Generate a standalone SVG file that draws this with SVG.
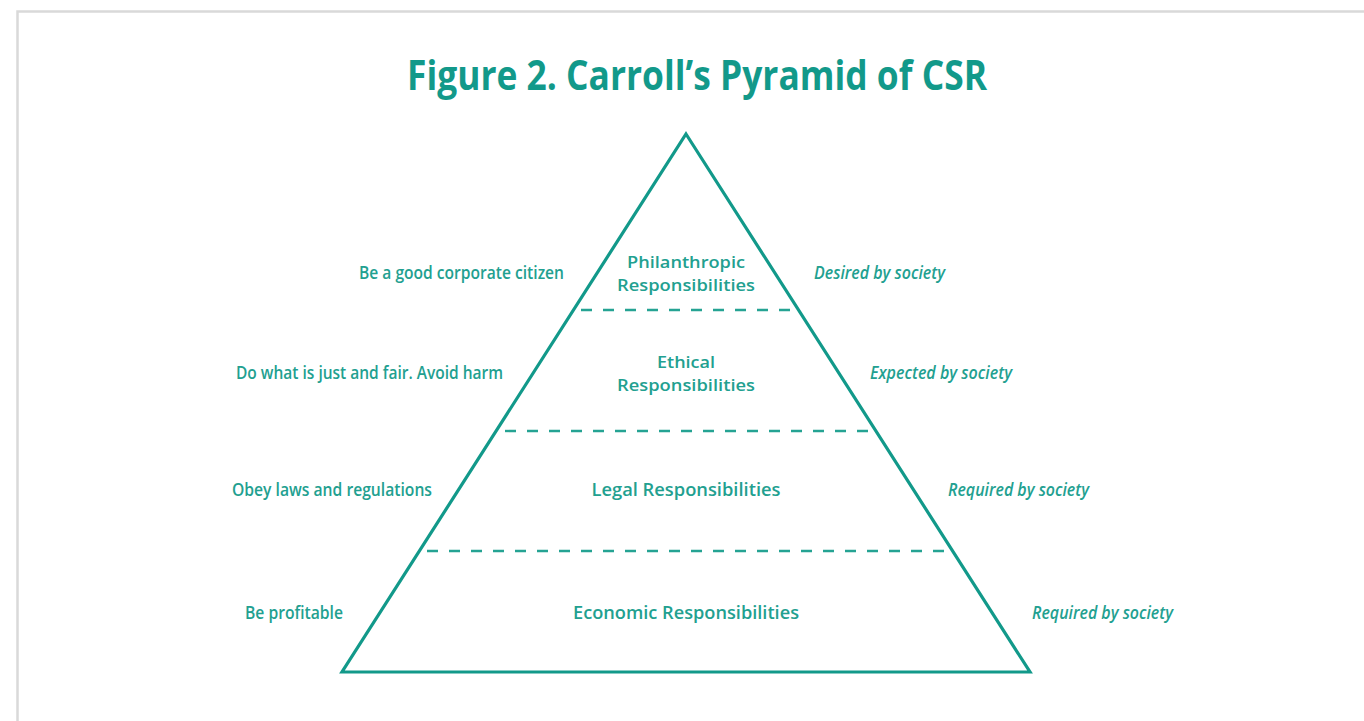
<svg xmlns="http://www.w3.org/2000/svg" width="1364" height="721" viewBox="0 0 1364 721">
  <style>
    .frame { fill: none; stroke: #d9d9d9; stroke-width: 2.5; }
    .edge { fill: none; stroke: #12998a; stroke-width: 3.2; stroke-linejoin: miter; }
    .tier { fill: none; stroke: #25a393; stroke-width: 2.4; stroke-dasharray: 11 11; }
    text { font-family: "Open Sans", "Liberation Sans", sans-serif; fill: #22a090; }
    .title { font-size: 42px; font-weight: 700; fill: #12998a; }
    .lbl { font-size: 17.5px; font-weight: 600; }
    .two { font-size: 16.5px; }
    .c { text-anchor: middle; }
    .it { font-style: italic; }
  </style>
  <rect width="1364" height="721" fill="#ffffff"/>
  <!-- page frame -->
  <path class="frame" d="M17.5 721 V11.5 H1364"/>

  <text id="title" class="title c" x="697" y="90" textLength="580" lengthAdjust="spacingAndGlyphs">Figure 2. Carroll’s Pyramid of CSR</text>

  <!-- pyramid outline and tier dividers -->
  <g id="connectors">
    <polygon class="edge" points="686,134 1030,672 342,672"/>
    <line class="tier" x1="581" y1="310" x2="793" y2="310"/>
    <line class="tier" x1="505" y1="431" x2="868" y2="431"/>
    <line class="tier" x1="427" y1="551" x2="946" y2="551"/>
  </g>

  <g id="tier-philanthropic">
    <text class="lbl two c" x="686" y="268" textLength="118" lengthAdjust="spacingAndGlyphs">Philanthropic</text>
    <text class="lbl two c" x="686" y="291" textLength="138" lengthAdjust="spacingAndGlyphs">Responsibilities</text>
    <text class="lbl" x="359" y="279" textLength="205" lengthAdjust="spacingAndGlyphs">Be a good corporate citizen</text>
    <text class="lbl it" x="814" y="279" textLength="131" lengthAdjust="spacingAndGlyphs">Desired by society</text>
  </g>

  <g id="tier-ethical">
    <text class="lbl two c" x="686" y="368" textLength="58" lengthAdjust="spacingAndGlyphs">Ethical</text>
    <text class="lbl two c" x="686" y="391" textLength="138" lengthAdjust="spacingAndGlyphs">Responsibilities</text>
    <text class="lbl" x="236" y="379" textLength="267" lengthAdjust="spacingAndGlyphs">Do what is just and fair. Avoid harm</text>
    <text class="lbl it" x="870" y="379" textLength="142" lengthAdjust="spacingAndGlyphs">Expected by society</text>
  </g>

  <g id="tier-legal">
    <text class="lbl c" x="686" y="496" textLength="189" lengthAdjust="spacingAndGlyphs">Legal Responsibilities</text>
    <text class="lbl" x="232" y="496" textLength="200" lengthAdjust="spacingAndGlyphs">Obey laws and regulations</text>
    <text class="lbl it" x="948" y="496" textLength="141" lengthAdjust="spacingAndGlyphs">Required by society</text>
  </g>

  <g id="tier-economic">
    <text class="lbl c" x="686" y="619" textLength="226" lengthAdjust="spacingAndGlyphs">Economic Responsibilities</text>
    <text class="lbl" x="245" y="619" textLength="98" lengthAdjust="spacingAndGlyphs">Be profitable</text>
    <text class="lbl it" x="1032" y="619" textLength="141" lengthAdjust="spacingAndGlyphs">Required by society</text>
  </g>
</svg>
